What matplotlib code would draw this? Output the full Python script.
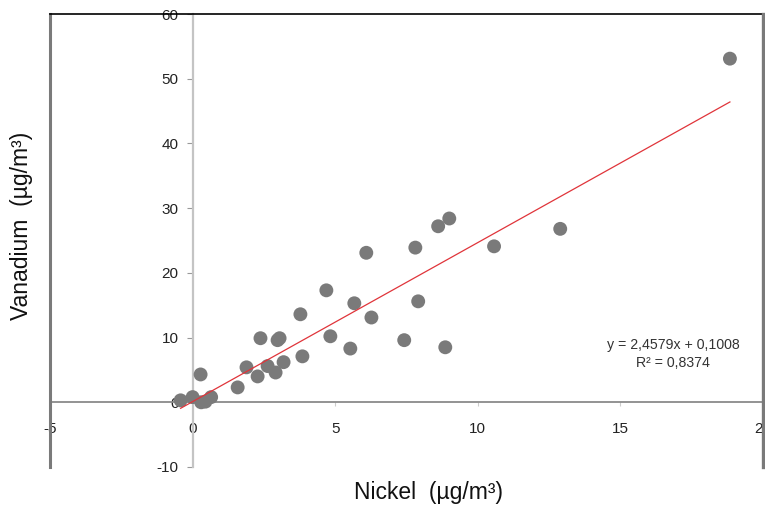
import matplotlib
matplotlib.use("Agg")
import matplotlib.pyplot as plt
import numpy as np

plt.rcParams['font.family'] = ['Liberation Sans', 'DejaVu Sans']

# Nickel vs vanadium concentrations (µg/m³)
nickel = [-0.42, 0.00, 0.28, 0.30, 0.45, 0.65, 1.58, 1.89, 2.28, 2.38, 2.63,
          2.91, 2.98, 3.05, 3.19, 3.78, 3.85, 4.69, 4.83, 5.53, 5.67, 6.27,
          6.09, 7.81, 7.91, 7.42, 8.61, 9.00, 8.86, 10.57, 12.89, 18.84]
vanadium = [0.3, 0.8, 4.3, 0.0, 0.1, 0.8, 2.3, 5.4, 4.0, 9.9, 5.6,
            4.6, 9.6, 9.9, 6.2, 13.6, 7.1, 17.3, 10.2, 8.3, 15.3, 13.1,
            23.1, 23.9, 15.6, 9.6, 27.2, 28.4, 8.5, 24.1, 26.8, 53.1]

# Linear trend line coefficients
slope = 2.4579
intercept = 0.1008
r_squared = 0.8374

x_ticks = [-5, 0, 5, 10, 15, 20]
y_ticks = [-10, 0, 10, 20, 30, 40, 50, 60]

fig = plt.figure(figsize=(7.65, 5.07), dpi=100)
ax = fig.add_axes([50 / 765, 40 / 507, 713 / 765, 453 / 507])

ax.scatter(nickel, vanadium, s=100, color='#7a7a7a', edgecolors='none', zorder=3)

xs = np.array([min(nickel), max(nickel)])
ax.plot(xs, slope * xs + intercept, color='#e0343a', lw=0.9, zorder=4)

ax.set_xlim(-5, 20)
ax.set_ylim(-10, 60)
ax.set_xticks(x_ticks)
ax.set_yticks(y_ticks)
ax.set_xticklabels([str(t) for t in x_ticks])
ax.set_yticklabels([str(t) for t in y_ticks])

# Axes crossing at the origin
ax.spines['left'].set_position(('data', 0))
ax.spines['bottom'].set_position(('data', 0))
ax.spines['left'].set_color('#c4c4c4')
ax.spines['left'].set_linewidth(1.6)
ax.spines['bottom'].set_color('#8a8a8a')
ax.spines['bottom'].set_linewidth(1.3)
ax.spines['top'].set_visible(False)
ax.spines['right'].set_visible(False)

ax.tick_params(axis='y', direction='out', length=4, width=0.8, color='#999999',
               labelsize=11, labelcolor='#222222', pad=6)
ax.tick_params(axis='x', direction='out', length=3, width=0.8, color='#cccccc',
               labelsize=11, labelcolor='#222222', pad=11)

# Chart frame
ax.plot([0, 0], [0, 1], transform=ax.transAxes, color='#7a7a7a', lw=2.2,
        clip_on=False, zorder=5)
ax.plot([0, 1], [1, 1], transform=ax.transAxes, color='#000000', lw=1.2,
        clip_on=False, zorder=5)
ax.plot([1, 1], [0, 1], transform=ax.transAxes, color='#7a7a7a', lw=2.4,
        clip_on=False, zorder=5)

ax.text(16.85, 8.8, 'y = 2,4579x + 0,1008', ha='center', va='center',
        fontsize=10.2, color='#333333')
ax.text(16.85, 6.0, 'R² = 0,8374', ha='center', va='center',
        fontsize=10.2, color='#333333')

fig.text(428 / 765, 1 - 493 / 507, 'Nickel  (µg/m³)', ha='center', va='center',
         fontsize=16.5, color='#111111')
fig.text(22 / 765, 1 - 226 / 507, 'Vanadium  (µg/m³)', ha='center', va='center',
         rotation=90, fontsize=16.5, color='#111111')

fig.savefig('out.png', dpi=100)
